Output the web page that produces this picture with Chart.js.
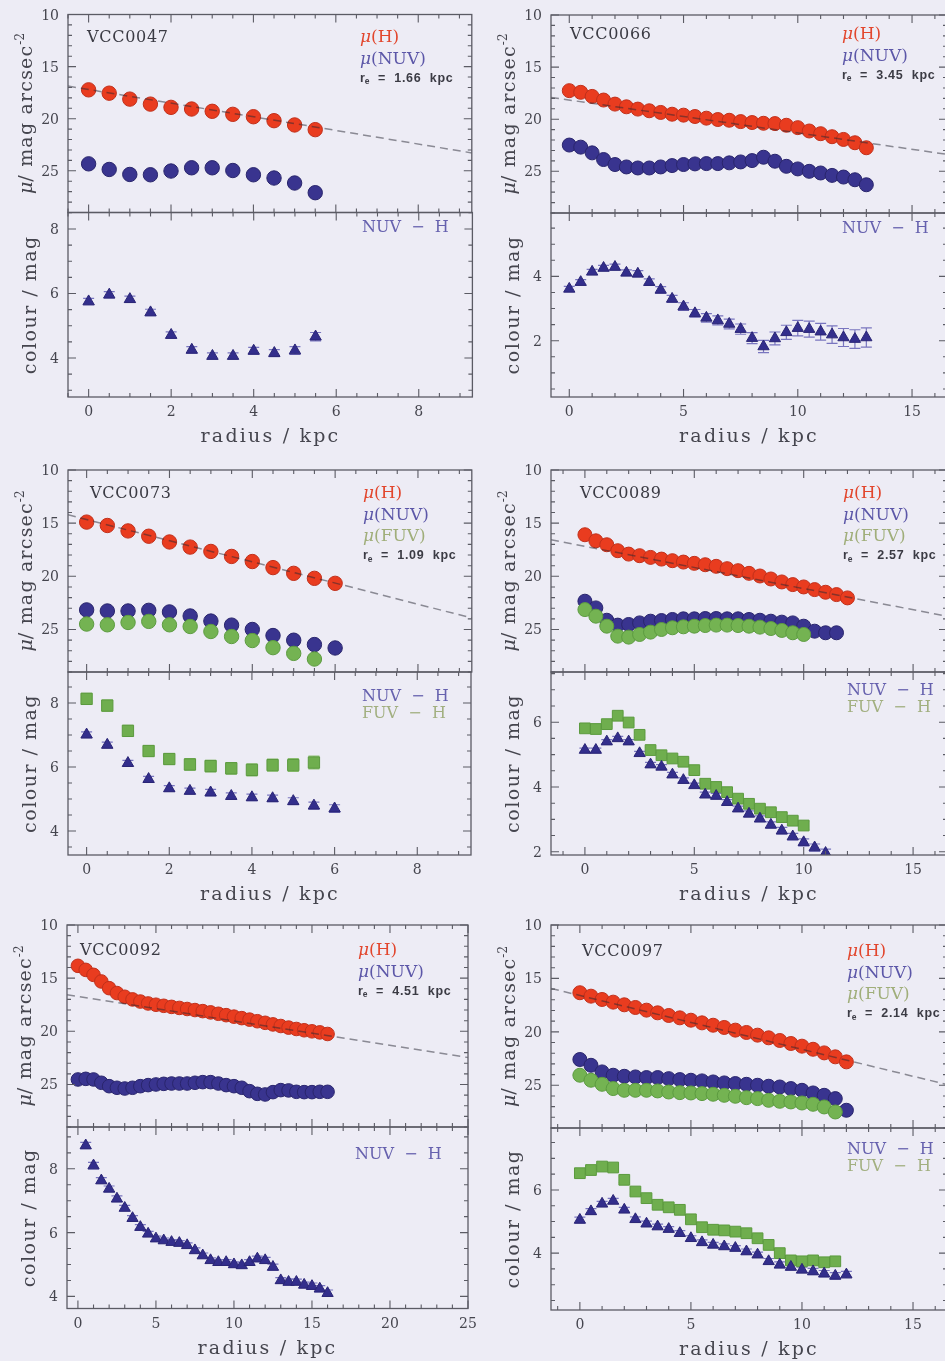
<!DOCTYPE html>
<html>
<head>
<meta charset="utf-8">
<script src="https://cdn.jsdelivr.net/npm/chart.js@4/dist/chart.umd.min.js"></script>
<style>
  html, body { margin: 0; padding: 0; background: #edecf5; overflow: hidden; }
  #page { position: relative; width: 945px; height: 1361px; overflow: hidden; background: #edecf5; }
  #page canvas { position: absolute; }
</style>
</head>
<body>
<div id="page"></div>
<script>
// ===== Radial profiles: surface brightness (mag arcsec^-2) and colours (mag) =====

// ---- VCC0047 ----
const rad47    = [0, 0.5, 1, 1.5, 2, 2.5, 3, 3.5, 4, 4.5, 5, 5.5];
const muH47    = [17.23, 17.55, 18.12, 18.6, 18.91, 19.07, 19.29, 19.58, 19.81, 20.19, 20.6, 21.05];
const muNUV47  = [24.33, 24.87, 25.35, 25.38, 25.02, 24.71, 24.71, 24.97, 25.38, 25.69, 26.17, 27.1];
const nuvH47   = [5.75, 5.96, 5.82, 5.41, 4.71, 4.25, 4.06, 4.06, 4.22, 4.15, 4.23, 4.66];
const errNH47  = [0.1, 0.1, 0.1, 0.1, 0.1, 0.1, 0.1, 0.1, 0.11, 0.11, 0.12, 0.13];
const fitR47   = [-0.5, 9.3];
const fitMu47  = [16.87, 23.28];

// ---- VCC0066 ----
const rad66    = [0, 0.5, 1, 1.5, 2, 2.5, 3, 3.5, 4, 4.5, 5, 5.5, 6, 6.5, 7, 7.5, 8, 8.5, 9, 9.5, 10, 10.5, 11, 11.5, 12, 12.5, 13];
const muH66    = [17.26, 17.42, 17.81, 18.16, 18.55, 18.81, 19.03, 19.19, 19.35, 19.52, 19.61, 19.74, 19.9, 20.03, 20.1, 20.23, 20.32, 20.39, 20.42, 20.58, 20.81, 21.13, 21.39, 21.68, 21.94, 22.26, 22.74];
const muNUV66  = [22.48, 22.68, 23.23, 23.87, 24.35, 24.58, 24.68, 24.68, 24.58, 24.45, 24.35, 24.29, 24.26, 24.26, 24.19, 24.1, 23.97, 23.65, 24.03, 24.52, 24.77, 25.0, 25.16, 25.39, 25.55, 25.81, 26.29];
const nuvH66   = [3.61, 3.82, 4.14, 4.26, 4.29, 4.11, 4.08, 3.82, 3.58, 3.3, 3.06, 2.85, 2.71, 2.63, 2.52, 2.36, 2.08, 1.82, 2.07, 2.26, 2.39, 2.36, 2.28, 2.19, 2.1, 2.05, 2.1];
const errNH66  = [0.08, 0.08, 0.08, 0.08, 0.09, 0.09, 0.1, 0.1, 0.1, 0.11, 0.12, 0.12, 0.13, 0.14, 0.15, 0.16, 0.17, 0.19, 0.2, 0.22, 0.24, 0.25, 0.26, 0.27, 0.28, 0.29, 0.3];
const fitR66   = [-0.8, 16.53];
const fitMu66  = [17.91, 23.37];

// ---- VCC0073 ----
const rad73    = [0, 0.5, 1, 1.5, 2, 2.5, 3, 3.5, 4, 4.5, 5, 5.5, 6];
const radF73   = [0, 0.5, 1, 1.5, 2, 2.5, 3, 3.5, 4, 4.5, 5, 5.5];
const muH73    = [14.9, 15.22, 15.73, 16.23, 16.77, 17.25, 17.66, 18.13, 18.61, 19.18, 19.72, 20.19, 20.66];
const muNUV73  = [23.16, 23.26, 23.26, 23.2, 23.35, 23.73, 24.21, 24.59, 25.0, 25.57, 26.01, 26.42, 26.74];
const muFUV73  = [24.49, 24.56, 24.34, 24.24, 24.56, 24.72, 25.19, 25.66, 26.04, 26.71, 27.25, 27.78];
const nuvH73   = [7.01, 6.69, 6.12, 5.62, 5.33, 5.25, 5.2, 5.09, 5.05, 5.02, 4.93, 4.79, 4.7];
const fuvH73   = [8.13, 7.92, 7.13, 6.5, 6.25, 6.08, 6.03, 5.96, 5.91, 6.06, 6.06, 6.14];
const errNH73  = [0.09, 0.09, 0.09, 0.09, 0.09, 0.09, 0.1, 0.1, 0.1, 0.1, 0.11, 0.11, 0.12];
const errFH73  = [0.17, 0.17, 0.17, 0.17, 0.17, 0.18, 0.18, 0.18, 0.19, 0.19, 0.2, 0.2];
const fitR73   = [-0.45, 9.3];
const fitMu73  = [14.21, 23.92];

// ---- VCC0089 ----
const rad89    = [0, 0.5, 1, 1.5, 2, 2.5, 3, 3.5, 4, 4.5, 5, 5.5, 6, 6.5, 7, 7.5, 8, 8.5, 9, 9.5, 10, 10.5, 11, 11.5, 12];
const radN89   = [0, 0.5, 1, 1.5, 2, 2.5, 3, 3.5, 4, 4.5, 5, 5.5, 6, 6.5, 7, 7.5, 8, 8.5, 9, 9.5, 10, 10.5, 11, 11.5];
const radF89   = [0, 0.5, 1, 1.5, 2, 2.5, 3, 3.5, 4, 4.5, 5, 5.5, 6, 6.5, 7, 7.5, 8, 8.5, 9, 9.5, 10];
const radNH89  = [0, 0.5, 1, 1.5, 2, 2.5, 3, 3.5, 4, 4.5, 5, 5.5, 6, 6.5, 7, 7.5, 8, 8.5, 9, 9.5, 10, 10.5, 11];
const muH89    = [16.09, 16.66, 17.03, 17.59, 17.91, 18.06, 18.22, 18.38, 18.53, 18.66, 18.78, 18.91, 19.06, 19.28, 19.47, 19.72, 19.97, 20.25, 20.53, 20.78, 21.0, 21.25, 21.5, 21.72, 22.03];
const muNUV89  = [22.34, 22.97, 24.13, 24.59, 24.53, 24.38, 24.22, 24.16, 24.06, 24.0, 24.0, 23.97, 23.97, 24.0, 24.0, 24.06, 24.13, 24.22, 24.31, 24.38, 24.69, 25.16, 25.31, 25.31];
const muFUV89  = [23.13, 23.75, 24.69, 25.63, 25.72, 25.47, 25.25, 25.0, 24.84, 24.75, 24.69, 24.63, 24.59, 24.59, 24.63, 24.69, 24.78, 24.91, 25.09, 25.31, 25.47];
const nuvH89   = [5.14, 5.14, 5.4, 5.5, 5.4, 5.04, 4.69, 4.62, 4.38, 4.21, 4.05, 3.76, 3.72, 3.53, 3.33, 3.17, 3.02, 2.83, 2.65, 2.47, 2.29, 2.13, 1.96];
const fuvH89   = [5.81, 5.79, 5.94, 6.2, 5.99, 5.61, 5.14, 4.98, 4.88, 4.78, 4.52, 4.1, 4.0, 3.84, 3.64, 3.48, 3.33, 3.22, 3.07, 2.96, 2.81];
const errNH89  = [0.06, 0.06, 0.06, 0.06, 0.06, 0.06, 0.07, 0.07, 0.07, 0.07, 0.07, 0.08, 0.08, 0.08, 0.08, 0.09, 0.09, 0.09, 0.1, 0.1, 0.11, 0.11, 0.12];
const errFH89  = [0.08, 0.08, 0.08, 0.08, 0.08, 0.08, 0.09, 0.09, 0.09, 0.09, 0.09, 0.1, 0.1, 0.1, 0.1, 0.11, 0.11, 0.11, 0.12, 0.12, 0.13];
const fitR89   = [-1.55, 16.55];
const fitMu89  = [16.56, 23.76];

// ---- VCC0092 ----
const rad92    = [0, 0.5, 1, 1.5, 2, 2.5, 3, 3.5, 4, 4.5, 5, 5.5, 6, 6.5, 7, 7.5, 8, 8.5, 9, 9.5, 10, 10.5, 11, 11.5, 12, 12.5, 13, 13.5, 14, 14.5, 15, 15.5, 16];
const radC92   = [0.5, 1, 1.5, 2, 2.5, 3, 3.5, 4, 4.5, 5, 5.5, 6, 6.5, 7, 7.5, 8, 8.5, 9, 9.5, 10, 10.5, 11, 11.5, 12, 12.5, 13, 13.5, 14, 14.5, 15, 15.5, 16];
const muH92    = [13.84, 14.22, 14.69, 15.31, 15.94, 16.4, 16.75, 17.0, 17.2, 17.38, 17.5, 17.6, 17.7, 17.8, 17.9, 18.0, 18.1, 18.22, 18.35, 18.48, 18.62, 18.76, 18.9, 19.05, 19.2, 19.35, 19.5, 19.65, 19.78, 19.9, 20.0, 20.1, 20.25];
const muNUV92  = [24.53, 24.47, 24.53, 24.84, 25.16, 25.31, 25.38, 25.31, 25.16, 25.06, 25.0, 24.94, 24.91, 24.91, 24.91, 24.84, 24.78, 24.78, 24.91, 25.06, 25.16, 25.31, 25.63, 25.88, 25.94, 25.72, 25.53, 25.56, 25.69, 25.72, 25.72, 25.69, 25.69];
const nuvH92   = [8.73, 8.1, 7.63, 7.37, 7.06, 6.77, 6.45, 6.17, 5.96, 5.81, 5.75, 5.7, 5.67, 5.6, 5.44, 5.28, 5.13, 5.07, 5.07, 5.0, 4.97, 5.07, 5.18, 5.13, 4.92, 4.5, 4.45, 4.45, 4.36, 4.32, 4.24, 4.1];
const errNH92  = [0.1, 0.1, 0.09, 0.09, 0.09, 0.08, 0.08, 0.08, 0.08, 0.08, 0.08, 0.08, 0.08, 0.08, 0.08, 0.08, 0.08, 0.08, 0.08, 0.08, 0.08, 0.08, 0.08, 0.09, 0.09, 0.09, 0.09, 0.09, 0.09, 0.1, 0.1, 0.1];
const fitR92   = [-0.7, 25];
const fitMu92  = [16.56, 22.47];

// ---- VCC0097 ----
const rad97    = [0, 0.5, 1, 1.5, 2, 2.5, 3, 3.5, 4, 4.5, 5, 5.5, 6, 6.5, 7, 7.5, 8, 8.5, 9, 9.5, 10, 10.5, 11, 11.5, 12];
const radF97   = [0, 0.5, 1, 1.5, 2, 2.5, 3, 3.5, 4, 4.5, 5, 5.5, 6, 6.5, 7, 7.5, 8, 8.5, 9, 9.5, 10, 10.5, 11, 11.5];
const muH97    = [16.34, 16.66, 16.97, 17.22, 17.47, 17.72, 17.97, 18.22, 18.47, 18.69, 18.91, 19.16, 19.38, 19.59, 19.84, 20.06, 20.31, 20.56, 20.81, 21.09, 21.34, 21.63, 21.97, 22.34, 22.81];
const muNUV97  = [22.59, 23.13, 23.75, 24.06, 24.16, 24.22, 24.28, 24.28, 24.38, 24.47, 24.53, 24.59, 24.69, 24.78, 24.84, 24.91, 25.0, 25.09, 25.16, 25.31, 25.47, 25.72, 25.94, 26.25, 27.34];
const muFUV97  = [24.06, 24.53, 24.91, 25.31, 25.47, 25.47, 25.47, 25.53, 25.63, 25.69, 25.72, 25.78, 25.84, 25.94, 26.03, 26.16, 26.25, 26.41, 26.5, 26.56, 26.66, 26.78, 27.03, 27.5];
const nuvH97   = [5.05, 5.32, 5.56, 5.65, 5.37, 5.07, 4.93, 4.84, 4.76, 4.63, 4.47, 4.34, 4.26, 4.21, 4.16, 4.05, 3.95, 3.74, 3.63, 3.56, 3.47, 3.42, 3.35, 3.28, 3.32];
const fuvH97   = [6.53, 6.63, 6.74, 6.71, 6.32, 5.95, 5.74, 5.53, 5.45, 5.37, 5.07, 4.82, 4.74, 4.72, 4.68, 4.63, 4.47, 4.26, 4.0, 3.77, 3.74, 3.77, 3.71, 3.74];
const errNH97  = [0.09, 0.09, 0.08, 0.08, 0.08, 0.08, 0.08, 0.08, 0.08, 0.08, 0.08, 0.08, 0.08, 0.08, 0.08, 0.08, 0.08, 0.09, 0.09, 0.09, 0.09, 0.1, 0.1, 0.1, 0.1];
const errFH97  = [0.1, 0.1, 0.09, 0.09, 0.09, 0.09, 0.09, 0.09, 0.09, 0.09, 0.09, 0.09, 0.09, 0.09, 0.1, 0.1, 0.1, 0.1, 0.1, 0.11, 0.11, 0.11, 0.12, 0.12];
const fitR97   = [-1.3, 16.53];
const fitMu97  = [15.94, 24.93];

// ---- tick labels ----
const muTicks      = [10, 15, 20, 25];
const radTicks8    = [0, 2, 4, 6, 8];
const radTicks15   = [0, 5, 10, 15];
const radTicks25   = [0, 5, 10, 15, 20, 25];
const colTicks47   = [4, 6, 8];
const colTicks66   = [2, 4];
const colTicks73   = [4, 6, 8];
const colTicks89   = [2, 4, 6];
const colTicks92   = [4, 6, 8];
const colTicks97   = [4, 6];

// ===== styles =====
const SERIF = '"DejaVu Serif", "Liberation Serif", serif';
const SANS  = '"Liberation Sans", Arial, sans-serif';
const INK   = '#45454e';
const FRAME = '#5b5b64';
const BAND = {
  H:   { fill: '#e93c1f', edge: '#c0301b', text: '#e2462d', order: 3 },
  NUV: { fill: '#39348f', edge: '#29256c', text: '#5c57a8', order: 2 },
  FUV: { fill: '#74b352', edge: '#5c9b40', text: '#a0ae7a', order: 1 }
};
const COLOUR = {
  NUV: { shape: 'triangle', fill: '#332e8c', edge: '#2a2575', err: '#7975bf', text: '#6661ae', order: 1 },
  FUV: { shape: 'rect',     fill: '#6fae4e', edge: '#5b9a3e', err: '#8fc074', text: '#a2af80', order: 2 }
};

// ===== panel layout: page boxes of the two stacked plots for each galaxy =====
const galaxies = [
  { name: 'VCC0047', re: '1.66', cell: { x: 0, y: 0, w: 480, h: 455 }, box: { l: 68, r: 473, t: 14.5, m: 212.5, b: 397 },
    xr: [-0.5, 9.3], xMajor: 2, xMinor: 0.5, xTicks: radTicks8, colRange: [2.79, 8.51], colTicks: colTicks47,
    dot: 7.2, tri: 6.6, sq: 8, txt: { dy: 21.5, nameX: 19, legX: 292, colDy: 14, colX: 294 },
    mu: [{ r: rad47, v: muH47, b: 'H' }, { r: rad47, v: muNUV47, b: 'NUV' }],
    fit: { r: fitR47, v: fitMu47 },
    col: [{ r: rad47, v: nuvH47, e: errNH47, b: 'NUV' }] },
  { name: 'VCC0066', re: '3.45', cell: { x: 480, y: 0, w: 480, h: 455 }, box: { l: 551, r: 947, t: 15, m: 213, b: 397 },
    xr: [-0.8, 16.53], xMajor: 5, xMinor: 1, xTicks: radTicks15, colRange: [0.25, 5.97], colTicks: colTicks66,
    dot: 7, tri: 6.5, sq: 7.6, txt: { dy: 18, nameX: 19, legX: 291, colDy: 14, colX: 291 },
    mu: [{ r: rad66, v: muH66, b: 'H' }, { r: rad66, v: muNUV66, b: 'NUV' }],
    fit: { r: fitR66, v: fitMu66 },
    col: [{ r: rad66, v: nuvH66, e: errNH66, b: 'NUV' }] },
  { name: 'VCC0073', re: '1.09', cell: { x: 0, y: 455, w: 480, h: 455 }, box: { l: 68, r: 472, t: 470, m: 672, b: 855 },
    xr: [-0.45, 9.3], xMajor: 2, xMinor: 0.5, xTicks: radTicks8, colRange: [3.25, 8.97], colTicks: colTicks73,
    dot: 7.2, tri: 6.6, sq: 8, txt: { dy: 22, nameX: 22, legX: 295, colDy: 23, colX: 294 },
    mu: [{ r: rad73, v: muH73, b: 'H' }, { r: rad73, v: muNUV73, b: 'NUV' }, { r: radF73, v: muFUV73, b: 'FUV' }],
    fit: { r: fitR73, v: fitMu73 },
    col: [{ r: rad73, v: nuvH73, e: errNH73, b: 'NUV' }, { r: radF73, v: fuvH73, e: errFH73, b: 'FUV' }] },
  { name: 'VCC0089', re: '2.57', cell: { x: 480, y: 455, w: 480, h: 455 }, box: { l: 551, r: 947, t: 470, m: 672, b: 855 },
    xr: [-1.55, 16.55], xMajor: 5, xMinor: 1, xTicks: radTicks15, colRange: [1.9, 7.55], colTicks: colTicks89,
    dot: 7, tri: 6.5, sq: 7.6, txt: { dy: 22, nameX: 29, legX: 292, colDy: 17, colX: 296 },
    mu: [{ r: rad89, v: muH89, b: 'H' }, { r: radN89, v: muNUV89, b: 'NUV' }, { r: radF89, v: muFUV89, b: 'FUV' }],
    fit: { r: fitR89, v: fitMu89 },
    col: [{ r: radNH89, v: nuvH89, e: errNH89, b: 'NUV' }, { r: radF89, v: fuvH89, e: errFH89, b: 'FUV' }] },
  { name: 'VCC0092', re: '4.51', cell: { x: 0, y: 910, w: 480, h: 451 }, box: { l: 67, r: 468, t: 925, m: 1127, b: 1308.5 },
    xr: [-0.7, 25], xMajor: 5, xMinor: 1, xTicks: radTicks25, colRange: [3.62, 9.31], colTicks: colTicks92,
    dot: 6.8, tri: 6.5, sq: 7.6, txt: { dy: 24, nameX: 13, legX: 291, colDy: 26, colX: 288 },
    mu: [{ r: rad92, v: muH92, b: 'H' }, { r: rad92, v: muNUV92, b: 'NUV' }],
    fit: { r: fitR92, v: fitMu92 },
    col: [{ r: radC92, v: nuvH92, e: errNH92, b: 'NUV' }] },
  { name: 'VCC0097', re: '2.14', cell: { x: 480, y: 910, w: 480, h: 451 }, box: { l: 551, r: 947, t: 925, m: 1128, b: 1310 },
    xr: [-1.3, 16.53], xMajor: 5, xMinor: 1, xTicks: radTicks15, colRange: [2.2, 7.96], colTicks: colTicks97,
    dot: 7, tri: 6.5, sq: 7.6, txt: { dy: 25, nameX: 31, legX: 296, colDy: 20, colX: 296 },
    mu: [{ r: rad97, v: muH97, b: 'H' }, { r: rad97, v: muNUV97, b: 'NUV' }, { r: radF97, v: muFUV97, b: 'FUV' }],
    fit: { r: fitR97, v: fitMu97 },
    col: [{ r: rad97, v: nuvH97, e: errNH97, b: 'NUV' }, { r: radF97, v: fuvH97, e: errFH97, b: 'FUV' }] }
];

// ===== drawing helpers =====
function drawRich(ctx, item) {
  ctx.save();
  let x = item.x, y = item.y;
  if (item.rotate) { ctx.translate(x, y); ctx.rotate(-Math.PI / 2); x = 0; y = 0; }
  let w = 0;
  for (const s of item.segs) { ctx.font = s.font; ctx.letterSpacing = s.ls || '0px'; w += ctx.measureText(s.t).width; }
  let cx = item.align === 'center' ? x - w / 2 : item.align === 'right' ? x - w : x;
  ctx.textAlign = 'left';
  ctx.textBaseline = 'alphabetic';
  for (const s of item.segs) {
    ctx.font = s.font;
    ctx.letterSpacing = s.ls || '0px';
    ctx.fillStyle = s.color || INK;
    ctx.fillText(s.t, cx, y + (s.dy || 0));
    cx += ctx.measureText(s.t).width;
  }
  ctx.restore();
}

function stepsIn(min, max, step) {
  const out = [];
  for (let k = Math.ceil(min / step - 1e-9); k * step <= max + 1e-9; k++) out.push(k * step);
  return out;
}
function onStep(v, step) { return Math.abs(v / step - Math.round(v / step)) < 1e-6; }

// Frame with inward ticks on all four sides, tick labels, titles and annotations
const panelAxes = {
  id: 'panelAxes',
  beforeDatasetsDraw(chart) {
    const p = chart.canvas._panel;
    if (!p || !p.errors) return;
    const ctx = chart.ctx, xs = chart.scales.x, ys = chart.scales.y, a = chart.chartArea;
    ctx.save();
    ctx.beginPath();
    ctx.rect(a.left, a.top, a.right - a.left, a.bottom - a.top);
    ctx.clip();
    for (const e of p.errors) {
      ctx.strokeStyle = e.color;
      ctx.lineWidth = 1.2;
      e.r.forEach((rv, i) => {
        const px = xs.getPixelForValue(rv);
        const p1 = ys.getPixelForValue(e.v[i] - e.e[i]);
        const p2 = ys.getPixelForValue(e.v[i] + e.e[i]);
        ctx.beginPath();
        ctx.moveTo(px, p1); ctx.lineTo(px, p2);
        ctx.moveTo(px - e.cap, p1); ctx.lineTo(px + e.cap, p1);
        ctx.moveTo(px - e.cap, p2); ctx.lineTo(px + e.cap, p2);
        ctx.stroke();
      });
    }
    ctx.restore();
  },
  afterDatasetsDraw(chart) {
    const p = chart.canvas._panel;
    if (!p) return;
    const ctx = chart.ctx, xs = chart.scales.x, ys = chart.scales.y;
    const { left: l, right: r, top: t, bottom: b } = chart.chartArea;
    ctx.save();
    ctx.strokeStyle = FRAME;
    ctx.lineWidth = 1.3;
    ctx.strokeRect(l, t, r - l, b - t);
    ctx.lineWidth = 1.1;
    ctx.beginPath();
    for (const v of stepsIn(xs.min, xs.max, p.xMinor)) {
      const len = onStep(v, p.xMajor) ? 8 : 4;
      const px = xs.getPixelForValue(v);
      ctx.moveTo(px, b); ctx.lineTo(px, b - len);
      ctx.moveTo(px, t); ctx.lineTo(px, t + len);
    }
    for (const v of stepsIn(ys.min, ys.max, p.yMinor)) {
      const len = onStep(v, p.yMajor) ? 8 : 4;
      const py = ys.getPixelForValue(v);
      ctx.moveTo(l, py); ctx.lineTo(l + len, py);
      ctx.moveTo(r, py); ctx.lineTo(r - len, py);
    }
    ctx.stroke();

    ctx.fillStyle = INK;
    ctx.font = '14px ' + SERIF;
    ctx.textBaseline = 'alphabetic';
    ctx.textAlign = 'right';
    for (const v of p.yLabels) ctx.fillText(String(v), l - 9, ys.getPixelForValue(v) + 5);
    if (p.xLabels) {
      ctx.textAlign = 'center';
      for (const v of p.xLabels) ctx.fillText(String(v), xs.getPixelForValue(v), b + 19);
    }
    ctx.restore();

    // annotation positions are given in page coordinates
    ctx.save();
    ctx.translate(-p.origin.x, -p.origin.y);
    for (const item of p.texts) drawRich(ctx, item);
    ctx.restore();
  }
};

const pageEl = document.getElementById('page');

function makeChart(cell, box, cfg, datasets) {
  const c = document.createElement('canvas');
  c.width = cell.w;
  c.height = cell.h;
  c.style.left = cell.x + 'px';
  c.style.top = cell.y + 'px';
  c.style.width = cell.w + 'px';
  c.style.height = cell.h + 'px';
  cfg.origin = { x: cell.x, y: cell.y };
  c._panel = cfg;
  pageEl.appendChild(c);
  return new Chart(c, {
    type: 'scatter',
    data: { datasets },
    options: {
      responsive: false,
      animation: false,
      devicePixelRatio: 1,
      events: [],
      layout: { padding: { left: box.l - cell.x, top: box.t - cell.y, right: cell.x + cell.w - box.r, bottom: cell.y + cell.h - box.b } },
      plugins: { legend: { display: false }, tooltip: { enabled: false } },
      scales: {
        x: { type: 'linear', display: false, min: cfg.xMin, max: cfg.xMax },
        y: { type: 'linear', display: false, min: cfg.yMin, max: cfg.yMax, reverse: cfg.reverse }
      }
    },
    plugins: [panelAxes]
  });
}

function points(rs, vs) { return vs.map((v, i) => ({ x: rs[i], y: v })); }

function buildGalaxy(g) {
  const B = g.box, T = g.txt;
  const nameBase = B.t + T.dy + 6;

  // --- surface brightness plot ---
  const muSets = g.mu.map(s => ({
    data: points(s.r, s.v),
    showLine: false,
    pointStyle: 'circle',
    pointRadius: g.dot,
    pointBackgroundColor: BAND[s.b].fill,
    pointBorderColor: BAND[s.b].edge,
    pointBorderWidth: 1,
    clip: 0,
    order: BAND[s.b].order
  }));
  muSets.push({
    data: points(g.fit.r, g.fit.v),
    showLine: true,
    pointRadius: 0,
    borderColor: 'rgba(40,40,52,0.5)',
    borderWidth: 1.5,
    borderDash: [8, 5],
    clip: 0,
    order: 0
  });
  const muTexts = [
    { segs: [{ t: g.name, font: '16px ' + SERIF, color: '#3b3b44', ls: '0.7px' }], x: B.l + T.nameX, y: nameBase, align: 'left' }
  ];
  g.mu.forEach((s, i) => {
    muTexts.push({
      segs: [
        { t: 'μ', font: 'italic 17px ' + SERIF, color: BAND[s.b].text },
        { t: '(' + s.b + ')', font: '17px ' + SERIF, color: BAND[s.b].text }
      ],
      x: B.l + T.legX, y: nameBase + i * 21.5, align: 'left'
    });
  });
  const reBase = B.t + T.dy + (g.mu.length - 1) * 21.5 + 19.5 + 4.5;
  muTexts.push({
    segs: [
      { t: 'r', font: 'bold 12.5px ' + SANS, color: '#3b3b44' },
      { t: 'e', font: 'bold 8.5px ' + SANS, color: '#3b3b44', dy: 2.5 },
      { t: '  =  ' + g.re + '  kpc', font: 'bold 12.5px ' + SANS, color: '#3b3b44', ls: '0.7px' }
    ],
    x: B.l + T.legX, y: reBase, align: 'left'
  });
  muTexts.push({
    segs: [
      { t: 'μ', font: 'italic 19px ' + SERIF },
      { t: '/ mag arcsec', font: '19px ' + SERIF, ls: '1.2px' },
      { t: '-2', font: '12px ' + SERIF, dy: -8 }
    ],
    x: B.l - 36, y: (B.t + B.m) / 2, align: 'center', rotate: true
  });
  makeChart(g.cell, { l: B.l, r: B.r, t: B.t, b: B.m }, {
    xMin: g.xr[0], xMax: g.xr[1], yMin: 10, yMax: 29, reverse: true,
    xMajor: g.xMajor, xMinor: g.xMinor, yMajor: 5, yMinor: 1,
    yLabels: muTicks, xLabels: null, texts: muTexts
  }, muSets);

  // --- colour plot ---
  const colSets = g.col.map(s => ({
    data: points(s.r, s.v),
    showLine: false,
    pointStyle: COLOUR[s.b].shape,
    pointRadius: COLOUR[s.b].shape === 'rect' ? g.sq : g.tri,
    pointBackgroundColor: COLOUR[s.b].fill,
    pointBorderColor: COLOUR[s.b].edge,
    pointBorderWidth: 1,
    clip: 0,
    order: COLOUR[s.b].order
  }));
  const errors = g.col.map(s => ({ r: s.r, v: s.v, e: s.e, color: COLOUR[s.b].err, cap: 5.5 }));
  const colTexts = [];
  g.col.forEach((s, i) => {
    colTexts.push({
      segs: [{ t: s.b + '  −  H', font: '16px ' + SERIF, color: COLOUR[s.b].text }],
      x: B.l + T.colX, y: B.m + T.colDy + 5.5 + i * 17.5, align: 'left'
    });
  });
  colTexts.push({
    segs: [{ t: 'radius / kpc', font: '19px ' + SERIF, ls: '2.2px' }],
    x: (B.l + B.r) / 2, y: B.b + 45, align: 'center'
  });
  colTexts.push({
    segs: [{ t: 'colour / mag', font: '19px ' + SERIF, ls: '1.5px' }],
    x: B.l - 32, y: (B.m + B.b) / 2, align: 'center', rotate: true
  });
  makeChart(g.cell, { l: B.l, r: B.r, t: B.m, b: B.b }, {
    xMin: g.xr[0], xMax: g.xr[1], yMin: g.colRange[0], yMax: g.colRange[1], reverse: false,
    xMajor: g.xMajor, xMinor: g.xMinor, yMajor: 2, yMinor: 0.5,
    yLabels: g.colTicks, xLabels: g.xTicks, texts: colTexts, errors
  }, colSets);
}

galaxies.forEach(buildGalaxy);
</script>
</body>
</html>
